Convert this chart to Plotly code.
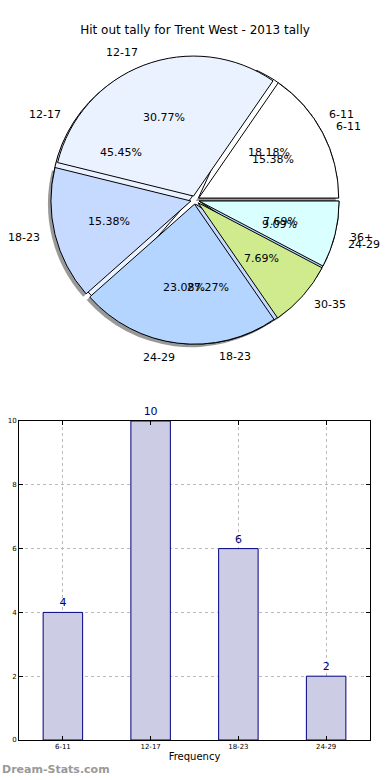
import math
import plotly.graph_objects as go

# Pie A: 2013 tally
pie_a_labels = ["6-11", "12-17", "18-23", "24-29", "30-35", "36+"]
pie_a_values = [2, 4, 2, 3, 1, 1]
pie_a_colors = ["#FFFFFF", "#EAF1FF", "#C6D9FF", "#B4D5FF", "#D0EB8E", "#D9FFFF"]

# Pie B / bar data
freq_labels = ["6-11", "12-17", "18-23", "24-29"]
freq_values = [4, 10, 6, 2]
pie_b_colors = ["#FFFFFF", "#EAF1FF", "#C6D9FF", "#B4D5FF"]

W, H = 390, 780
PULL = 0.03
R = 140
cx, cy = 195, 200
half = R * (1 + PULL)
PCT_DIST = 0.6
LBL_DIST = 1.1
TEXT_EXT = 1.2  # extent of the hidden text axes, in pie radii


def dom(x0, y0, x1, y1):
    return dict(x=[x0 / W, x1 / W], y=[1 - y1 / H, 1 - y0 / H])


pie_dom = dom(cx - half, cy - half, cx + half, cy + half)
shadow_dom = dom(cx - half - 3, cy - half + 3, cx + half - 3, cy + half + 3)
text_dom = dom(cx - TEXT_EXT * R, cy - TEXT_EXT * R, cx + TEXT_EXT * R, cy + TEXT_EXT * R)

font = "DejaVu Sans"


def start_rot(values):
    # first slice begins at 3 o'clock and runs counterclockwise
    return 90 - 360.0 * values[0] / sum(values)


def common(values):
    return dict(sort=False, direction="counterclockwise", rotation=start_rot(values),
                showlegend=False, hoverinfo="skip", textinfo="none")


fig = go.Figure()

# shadow
fig.add_trace(go.Pie(labels=pie_a_labels, values=pie_a_values, domain=shadow_dom,
                     marker=dict(colors=["rgba(70,70,70,0.55)"] * 6, line=dict(width=0)),
                     pull=[PULL] * 6, **common(pie_a_values)))


def add_pie(labels, values, colors):
    n = len(values)
    fig.add_trace(go.Pie(labels=labels, values=values, domain=pie_dom,
                         marker=dict(colors=colors, line=dict(color="#000000", width=1)),
                         pull=[PULL] * n, **common(values)))


annotations = []


def add_texts(labels, values):
    total = float(sum(values))
    acc = 0.0
    for lab, v in zip(labels, values):
        mid = math.radians(360.0 * (acc + v / 2.0) / total)
        acc += v
        c, s = math.cos(mid), math.sin(mid)
        annotations.append(dict(
            x=(PULL + PCT_DIST) * c, y=(PULL + PCT_DIST) * s, xref="x2", yref="y2",
            text=f"{100.0 * v / total:.2f}%", showarrow=False,
            xanchor="center", yanchor="middle", borderpad=0,
            font=dict(family=font, size=11, color="#000")))
        annotations.append(dict(
            x=(PULL + LBL_DIST) * c, y=(PULL + LBL_DIST) * s, xref="x2", yref="y2",
            text=lab, showarrow=False,
            xanchor="left" if c > 0 else "right", yanchor="middle", borderpad=0,
            font=dict(family=font, size=11, color="#000")))


add_pie(freq_labels, freq_values, pie_b_colors)
add_pie(pie_a_labels, pie_a_values, pie_a_colors)
add_texts(freq_labels, freq_values)
add_texts(pie_a_labels, pie_a_values)

# hidden scatter to establish the text axes for the pie
fig.add_trace(go.Scatter(x=[0], y=[0], mode="markers", marker=dict(opacity=0),
                         xaxis="x2", yaxis="y2", showlegend=False, hoverinfo="skip"))

# bar chart
fig.add_trace(go.Bar(x=freq_labels, y=freq_values, width=0.45,
                     marker=dict(color="#CCCCE5", line=dict(color="#000080", width=1)),
                     text=freq_values, textposition="outside", cliponaxis=False,
                     textfont=dict(family=font, size=11, color="#000080"),
                     showlegend=False, hoverinfo="skip"))

annotations.append(dict(text="<b>Dream-Stats.com</b>", x=0, y=1 - 769 / H, xref="paper",
                        yref="paper", xanchor="left", yanchor="middle", showarrow=False,
                        font=dict(family=font, size=11, color="#999999")))

fig.update_layout(
    width=W, height=H,
    margin=dict(l=0, r=0, t=0, b=0),
    paper_bgcolor="white", plot_bgcolor="white",
    font=dict(family=font, color="#000000"),
    title=dict(text="Hit out tally for Trent West - 2013 tally", x=0.5, xanchor="center",
               y=1 - 30 / H, yanchor="middle", font=dict(family=font, size=12, color="#000")),
    xaxis=dict(domain=[19 / W, 370 / W], range=[-0.5, 3.5], type="category",
               showgrid=True, gridcolor="#BBBBBB", griddash="dot", gridwidth=1,
               showline=True, linecolor="#000", linewidth=1, mirror="ticks",
               ticks="inside", ticklen=4, tickcolor="#000",
               tickfont=dict(family=font, size=7, color="#000"),
               title=dict(text="Frequency", font=dict(family=font, size=10, color="#000"), standoff=2),
               automargin=False, zeroline=False, fixedrange=True),
    yaxis=dict(domain=[1 - 740 / H, 1 - 421 / H], range=[0, 10], tickvals=[0, 2, 4, 6, 8, 10],
               showgrid=True, gridcolor="#BBBBBB", griddash="dot", gridwidth=1,
               showline=True, linecolor="#000", linewidth=1, mirror="ticks",
               ticks="inside", ticklen=4, tickcolor="#000",
               tickfont=dict(family=font, size=7, color="#000"),
               automargin=False, zeroline=False, fixedrange=True),
    xaxis2=dict(domain=text_dom["x"], range=[-TEXT_EXT, TEXT_EXT], visible=False, anchor="y2",
                fixedrange=True),
    yaxis2=dict(domain=text_dom["y"], range=[-TEXT_EXT, TEXT_EXT], visible=False, anchor="x2",
                fixedrange=True),
    annotations=annotations,
)

fig.write_html("out.html", config={"displayModeBar": False},
               post_script="document.body.style.margin='0';document.body.style.overflow='hidden';")
